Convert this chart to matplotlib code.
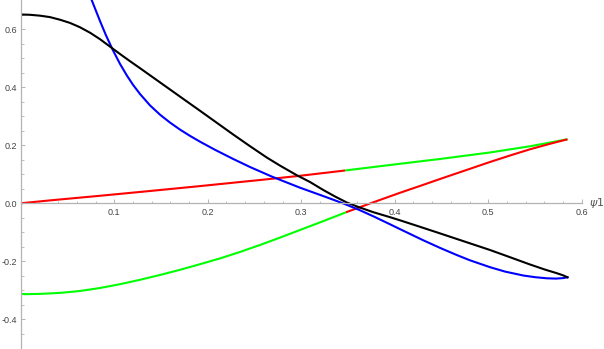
import matplotlib
matplotlib.use("Agg")
import matplotlib.pyplot as plt
import numpy as np

# ---- data ----
black_x = [0.0, 0.0002, 0.0099, 0.0206, 0.0313, 0.0420, 0.0527, 0.0634, 0.0741, 0.0848,
           0.0955, 0.1062, 0.1169, 0.1276, 0.1383, 0.1490, 0.1597, 0.1704, 0.1811, 0.1918,
           0.2078, 0.2274, 0.2452, 0.2631, 0.2773, 0.2952, 0.3094, 0.3236, 0.3362, 0.3487,
           0.3629, 0.3771, 0.3950, 0.4056, 0.4270, 0.4485, 0.4752, 0.5019, 0.5233, 0.5447,
           0.5607, 0.5733, 0.5800, 0.5848]
black_y = [0.657, 0.651, 0.650, 0.647, 0.642, 0.633, 0.622, 0.607, 0.5883, 0.5659,
           0.5403, 0.5148, 0.4900, 0.4659, 0.4414, 0.4169, 0.3924, 0.3679, 0.3434, 0.3190,
           0.2821, 0.2369, 0.197, 0.158, 0.130, 0.0969, 0.0734, 0.0459, 0.0234, 0.0028,
           -0.0148, -0.0307, -0.0479, -0.0586, -0.0810, -0.1038, -0.1324, -0.1610, -0.1859, -0.2110,
           -0.2286, -0.2410, -0.2483, -0.2552]

blue_x = [0.0736, 0.0759, 0.0848, 0.0912, 0.0984, 0.1062, 0.1134, 0.1201, 0.1276, 0.1383,
          0.1490, 0.1597, 0.1704, 0.1811, 0.1918, 0.2078, 0.2271, 0.2452, 0.2684, 0.2987,
          0.3201, 0.3362, 0.3487, 0.3629, 0.3771, 0.3950, 0.4056, 0.4306, 0.4485, 0.4663,
          0.4805, 0.5019, 0.5180, 0.5375, 0.5501, 0.5626, 0.5725, 0.5803, 0.5848]
blue_y = [0.730, 0.701, 0.6286, 0.5793, 0.5293, 0.4807, 0.4414, 0.4086, 0.3769, 0.3376,
          0.3055, 0.2783, 0.2541, 0.2324, 0.2124, 0.1845, 0.1531, 0.1252, 0.0924, 0.0538,
          0.0290, 0.0100, -0.0052, -0.0241, -0.0448, -0.0724, -0.0890, -0.1276, -0.1538, -0.1783,
          -0.1966, -0.2203, -0.2355, -0.2490, -0.2548, -0.2586, -0.2597, -0.2579, -0.2552]

red_upper_x = [0.0, 0.0313, 0.0848, 0.1383, 0.1918, 0.2559, 0.2987, 0.3469]
red_upper_y = [0.0, 0.0100, 0.0259, 0.0424, 0.0593, 0.0803, 0.0948, 0.1131]

green_upper_x = [0.3469, 0.3950, 0.4485, 0.5019, 0.5447, 0.5848]
green_upper_y = [0.1131, 0.1321, 0.1528, 0.1752, 0.1966, 0.2207]

green_lower_x = [0.0, 0.0002, 0.0035, 0.0206, 0.0420, 0.0634, 0.0848, 0.1062, 0.1276, 0.1490,
                 0.1704, 0.1918, 0.2132, 0.2345, 0.2559, 0.2773, 0.2987, 0.3201, 0.3479]
green_lower_y = [-0.2903, -0.3114, -0.3134, -0.3124, -0.3090, -0.3024, -0.2921, -0.2790, -0.2638, -0.2472,
                 -0.2293, -0.2100, -0.1900, -0.1679, -0.1438, -0.1183, -0.0921, -0.0659, -0.0310]

red_lower_x = [0.3479, 0.3736, 0.4056, 0.4270, 0.4485, 0.4752, 0.5019, 0.5233, 0.5447, 0.5661, 0.5848]
red_lower_y = [-0.0310, -0.0007, 0.0362, 0.0597, 0.0838, 0.1131, 0.1424, 0.1648, 0.1862, 0.2052, 0.2207]

x_major = [0.1, 0.2, 0.3, 0.4, 0.5, 0.6]
y_major = [-0.4, -0.2, 0.0, 0.2, 0.4, 0.6]
x_labels = ["0.1", "0.2", "0.3", "0.4", "0.5", "0.6"]
y_labels = ["-0.4", "-0.2", "0.0", "0.2", "0.4", "0.6"]

# ---- figure ----
plt.rcParams['axes.unicode_minus'] = False
plt.rcParams['mathtext.fontset'] = 'dejavusans'
W, H = 604, 349
fig = plt.figure(figsize=(W / 100, H / 100), dpi=100)
ax = fig.add_axes([20.7 / W, 1 / H, 561 / W, 348 / H])
ax.set_xlim(0, 0.6)
ax.set_ylim(-0.499, 0.701)

lw = 1.5
kw = dict(lw=lw, solid_joinstyle='round')
ax.plot(green_lower_x, green_lower_y, color=(0, 1, 0), solid_capstyle='butt', **kw)
ax.plot(green_upper_x, green_upper_y, color=(0, 1, 0), solid_capstyle='butt', **kw)
ax.plot(red_upper_x, red_upper_y, color=(1, 0, 0), solid_capstyle='butt', **kw)
ax.plot(red_lower_x, red_lower_y, color=(1, 0, 0), solid_capstyle='butt', **kw)
ax.plot(blue_x, blue_y, color=(0, 0, 1), **kw)
ax.plot(black_x, black_y, color='black', **kw)

axis_col = '#b3b3b3'
for s in ['top', 'right']:
    ax.spines[s].set_visible(False)
ax.spines['left'].set_position(('data', 0))
ax.spines['bottom'].set_position(('data', 0))
for s in ['left', 'bottom']:
    ax.spines[s].set_color(axis_col)
    ax.spines[s].set_linewidth(0.9)

ax.set_xticks(x_major)
ax.set_xticklabels(x_labels)
ax.set_yticks(y_major)
ax.set_yticklabels(y_labels)
ax.set_xticks(np.arange(0.02, 0.6, 0.02), minor=True)
ax.set_yticks(np.arange(-0.45, 0.70, 0.05), minor=True)

ax.tick_params(which='major', direction='in', length=3.0, width=0.7, color=axis_col,
               labelsize=6.5, labelcolor='#444444')
ax.tick_params(which='minor', direction='in', length=1.8, width=0.6, color=axis_col)
ax.tick_params(axis='x', which='major', pad=3.5)
ax.tick_params(axis='y', which='major', pad=2.5)
for lab in ax.get_xticklabels() + ax.get_yticklabels():
    lab.set_fontfamily(['Liberation Sans', 'DejaVu Sans'])

ax.annotate(r'$\psi$1', xy=(1.0, 0.0), xycoords=('axes fraction', 'data'),
            xytext=(5, 0), textcoords='offset points', ha='left', va='center',
            fontsize=8, color='#555555', annotation_clip=False)

fig.savefig('out.png', dpi=100)
